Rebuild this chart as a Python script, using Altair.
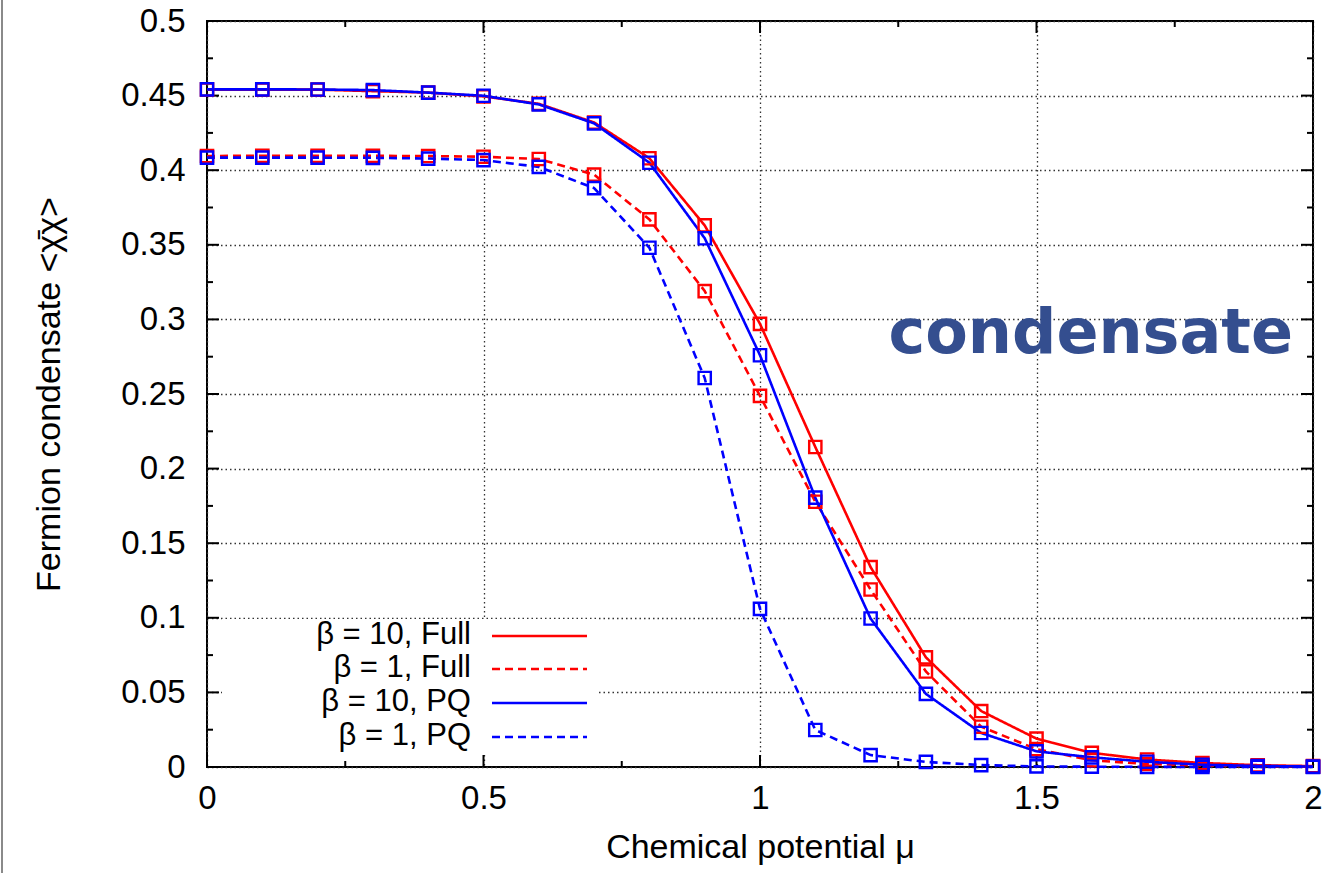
import altair as alt
import pandas as pd

# ---------------- data ----------------
mu = [0.0, 0.1, 0.2, 0.3, 0.4, 0.5, 0.6, 0.7, 0.8, 0.9, 1.0,
      1.1, 1.2, 1.3, 1.4, 1.5, 1.6, 1.7, 1.8, 1.9, 2.0]
full_b10 = [0.454, 0.454, 0.454, 0.453, 0.452, 0.4495, 0.4445, 0.432, 0.408, 0.363, 0.297,
            0.2145, 0.134, 0.0735, 0.0375, 0.019, 0.0095, 0.005, 0.0027, 0.0012, 0.0006]
full_b1 = [0.4095, 0.4097, 0.4097, 0.4096, 0.4095, 0.409, 0.4075, 0.397, 0.367, 0.319, 0.2487,
           0.1778, 0.119, 0.064, 0.027, 0.012, 0.0045, 0.002, 0.001, 0.0005, 0.0002]
pq_b10 = [0.4542, 0.4542, 0.4541, 0.4537, 0.452, 0.4499, 0.4441, 0.4314, 0.405, 0.3544, 0.276,
          0.1805, 0.0995, 0.049, 0.0228, 0.0105, 0.0065, 0.0035, 0.0015, 0.0007, 0.0003]
pq_b1 = [0.4084, 0.4084, 0.4084, 0.4083, 0.4078, 0.4068, 0.4022, 0.388, 0.348, 0.2607, 0.106,
         0.0248, 0.008, 0.0034, 0.0013, 0.0004, 0.0002, 0.0001, 0.0, 0.0, 0.0]

series_names = ["β = 10, Full", "β = 1, Full", "β = 10, PQ", "β = 1, PQ"]
series_values = [full_b10, full_b1, pq_b10, pq_b1]
series_colors = ["#ff0000", "#ff0000", "#0000ff", "#0000ff"]
series_dash = [[1, 0], [8, 5], [1, 0], [8, 5]]

x_major = [0, 0.5, 1, 1.5, 2]
x_minor = [0.25, 0.75, 1.25, 1.75]
y_major = [0, 0.05, 0.1, 0.15, 0.2, 0.25, 0.3, 0.35, 0.4, 0.45, 0.5]
y_minor = [0.025, 0.075, 0.125, 0.175, 0.225, 0.275, 0.325, 0.375, 0.425, 0.475]

W, H = 1106, 746
FONT = "Liberation Sans"

rows = []
for order, (name, vals) in enumerate(zip(series_names, series_values)):
    for m, v in zip(mu, vals):
        rows.append({"mu": m, "val": v, "series": name, "order": order})
df = pd.DataFrame(rows)

xs = alt.Scale(domain=[0, 2], nice=False, zero=False)
ys = alt.Scale(domain=[0, 0.5], nice=False, zero=False)

color = alt.Color("series:N", scale=alt.Scale(domain=series_names, range=series_colors), legend=None)
dash = alt.StrokeDash("series:N", scale=alt.Scale(domain=series_names, range=series_dash), legend=None)

# axis-bearing invisible base layer (labels + grid)
base = alt.Chart(pd.DataFrame({"mu": [0, 2], "val": [0, 0.5]})).mark_point(opacity=0).encode(
    x=alt.X("mu:Q", scale=xs, axis=alt.Axis(
        values=x_major, format="~g", ticks=False, domain=False, grid=True,
        labelFontSize=33, labelPadding=15, labelFont=FONT, labelColor="black",
        title="Chemical potential μ", titleFont=FONT, titleFontSize=34, titleFontWeight="normal",
        titleColor="black", titleX=W / 2, titleY=80, titleBaseline="middle",
        gridDash=[1.5, 3], gridColor="#333333", gridWidth=1.3, labelFlush=False)),
    y=alt.Y("val:Q", scale=ys, axis=alt.Axis(
        values=y_major, format="~g", ticks=False, domain=False, grid=True,
        labelFontSize=33, labelPadding=22, labelFont=FONT, labelColor="black",
        title="Fermion condensate <χ̄χ>", titleFont=FONT, titleFontSize=34, titleFontWeight="normal",
        titleColor="black", titleX=-158, titleY=H / 2, titleBaseline="middle", titleAngle=270,
        titleAlign="center",
        gridDash=[1.5, 3], gridColor="#333333", gridWidth=1.3, labelFlush=False)),
)

# white key box (covers grid)
keybox = alt.Chart(pd.DataFrame({"a": [0]})).mark_rect(color="white").encode(
    x=alt.value(15), x2=alt.value(390), y=alt.value(598), y2=alt.value(732))

lines = alt.Chart(df).mark_line(strokeWidth=2.6).encode(
    x=alt.X("mu:Q", scale=xs), y=alt.Y("val:Q", scale=ys),
    color=color, strokeDash=dash, detail="series:N", order="mu:Q")

points = alt.Chart(df).mark_point(shape="square", size=150, filled=False, strokeWidth=2.4, opacity=1).encode(
    x=alt.X("mu:Q", scale=xs), y=alt.Y("val:Q", scale=ys),
    color=color, order="order:Q")

# inward ticks on all four sides
def yticks(vals, length):
    d = pd.DataFrame({"v": vals})
    left = alt.Chart(d).mark_rule(color="black", strokeWidth=2).encode(
        y=alt.Y("v:Q", scale=ys), x=alt.value(0), x2=alt.value(length))
    right = alt.Chart(d).mark_rule(color="black", strokeWidth=2).encode(
        y=alt.Y("v:Q", scale=ys), x=alt.value(W - length), x2=alt.value(W))
    return [left, right]

def xticks(vals, length):
    d = pd.DataFrame({"v": vals})
    bottom = alt.Chart(d).mark_rule(color="black", strokeWidth=2).encode(
        x=alt.X("v:Q", scale=xs), y=alt.value(H - length), y2=alt.value(H))
    top = alt.Chart(d).mark_rule(color="black", strokeWidth=2).encode(
        x=alt.X("v:Q", scale=xs), y=alt.value(0), y2=alt.value(length))
    return [bottom, top]

tick_layers = yticks(y_major, 12) + yticks(y_minor, 6) + xticks(x_major, 12) + xticks(x_minor, 6)

# manual key (labels left, line samples right)
key_layers = []
key_y = [614, 647, 681, 715]
for name, col, dsh, ky in zip(series_names, series_colors, series_dash, key_y):
    key_layers.append(alt.Chart(pd.DataFrame({"a": [0]})).mark_text(
        align="right", baseline="middle", font=FONT, fontSize=31, color="black").encode(
        x=alt.value(264), y=alt.value(ky), text=alt.value(name)))
    key_layers.append(alt.Chart(pd.DataFrame({"a": [0]})).mark_rule(
        color=col, strokeWidth=2.6, strokeDash=dsh).encode(
        x=alt.value(285), x2=alt.value(380), y=alt.value(ky + 1)))

note = alt.Chart(pd.DataFrame({"a": [0]})).mark_text(
    align="right", baseline="alphabetic", font="DejaVu Sans", fontWeight="bold",
    fontSize=62, color="#344e8f").encode(
    x=alt.value(1086), y=alt.value(332), text=alt.value("condensate"))

slide_edge = alt.Chart(pd.DataFrame({"a": [0]})).mark_rule(color="#8a8a8a", strokeWidth=2).encode(
    x=alt.value(-205), y=alt.value(-21), y2=alt.value(852))

chart = alt.layer(base, keybox, *tick_layers, lines, points, *key_layers, note, slide_edge).properties(
    width=W, height=H,
    autosize=alt.AutoSizeParams(type="none"),
    padding={"left": 207, "top": 21, "right": 18, "bottom": 106},
    background="white",
).configure_view(stroke="black", strokeWidth=2)

chart.save("out.html", embed_options={"renderer": "svg", "actions": False})
